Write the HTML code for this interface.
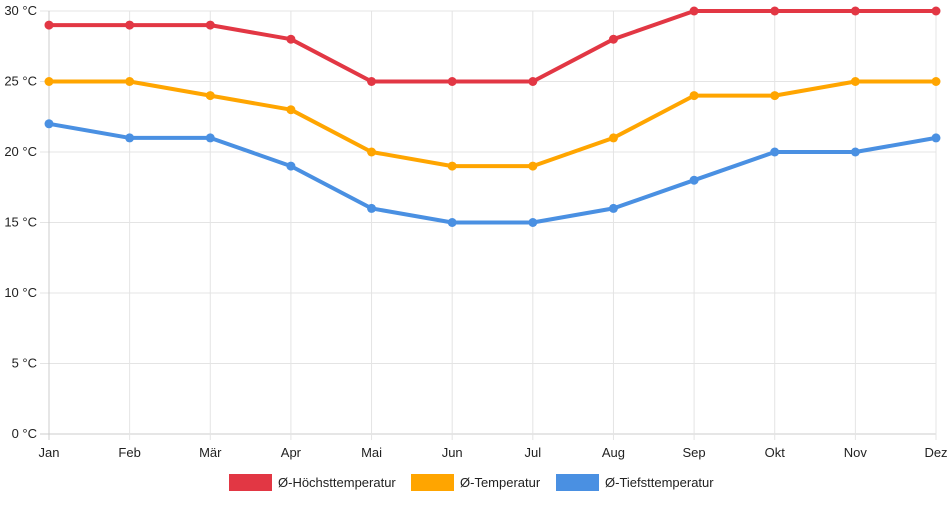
<!DOCTYPE html>
<html><head><meta charset="utf-8"><style>
body{margin:0;background:#fff;font-family:"Liberation Sans",sans-serif}
</style></head><body>
<svg id="c" width="952" height="500" xmlns="http://www.w3.org/2000/svg" font-family="Liberation Sans, sans-serif" font-size="13" fill="#222"></svg>
<script>
const months=["Jan","Feb","Mär","Apr","Mai","Jun","Jul","Aug","Sep","Okt","Nov","Dez"];
const highs=[29,29,29,28,25,25,25,28,30,30,30,30];
const means=[25,25,24,23,20,19,19,21,24,24,25,25];
const lows=[22,21,21,19,16,15,15,16,18,20,20,21];
const yTicks=[0,5,10,15,20,25,30];
const seriesNames=["Ø-Höchsttemperatur","Ø-Temperatur","Ø-Tiefsttemperatur"];
const colors=["#e23744","#ffa500","#4a90e2"];
const svg=document.getElementById('c');
const NS="http://www.w3.org/2000/svg";
const x0=49,x1=936,y0=434,y1=11;
const xs=i=>x0+i*(x1-x0)/(months.length-1);
const ys=v=>y0-(v-0)*(y0-y1)/30;
function mk(t,a,p){const e=document.createElementNS(NS,t);for(const k in a)e.setAttribute(k,a[k]);(p||svg).appendChild(e);return e;}
const g=mk('g',{});


yTicks.forEach(v=>{
 const l=mk('line',{x1:40,x2:x1,y1:ys(v),y2:ys(v),stroke:v===0?'#ccc':'#e4e4e4'},g);
 
 
 const t=mk('text',{x:37,y:ys(v)+4,'text-anchor':'end'});t.textContent=v+' °C';
 
 
});
months.forEach((m,i)=>{
 const l=mk('line',{x1:xs(i),x2:xs(i),y1:y1,y2:y0+6,stroke:i===0?'#ccc':'#e4e4e4'},g);
 
 
 const t=mk('text',{x:xs(i),y:y0+23,'text-anchor':'middle'});t.textContent=m;
 
 
});
[highs,means,lows].forEach((d,s)=>{
 const sg=mk('g',{});
 
 
 const p=mk('polyline',{points:d.map((v,i)=>xs(i)+','+ys(v)).join(' '),fill:'none',stroke:colors[s],'stroke-width':4,'stroke-linejoin':'round'},sg);
 
 
 d.forEach((v,i)=>{const c=mk('circle',{cx:xs(i),cy:ys(v),r:4.5,fill:colors[s]},sg);
  
  });
});
const lx=[229,411,556];
seriesNames.forEach((n,s)=>{
 const lg=mk('g',{});
 
 
 mk('rect',{x:lx[s],y:474,width:43,height:17,fill:colors[s]},lg);
 const t=mk('text',{x:lx[s]+49,y:487},lg);t.textContent=n;
});
</script>
</body></html>
